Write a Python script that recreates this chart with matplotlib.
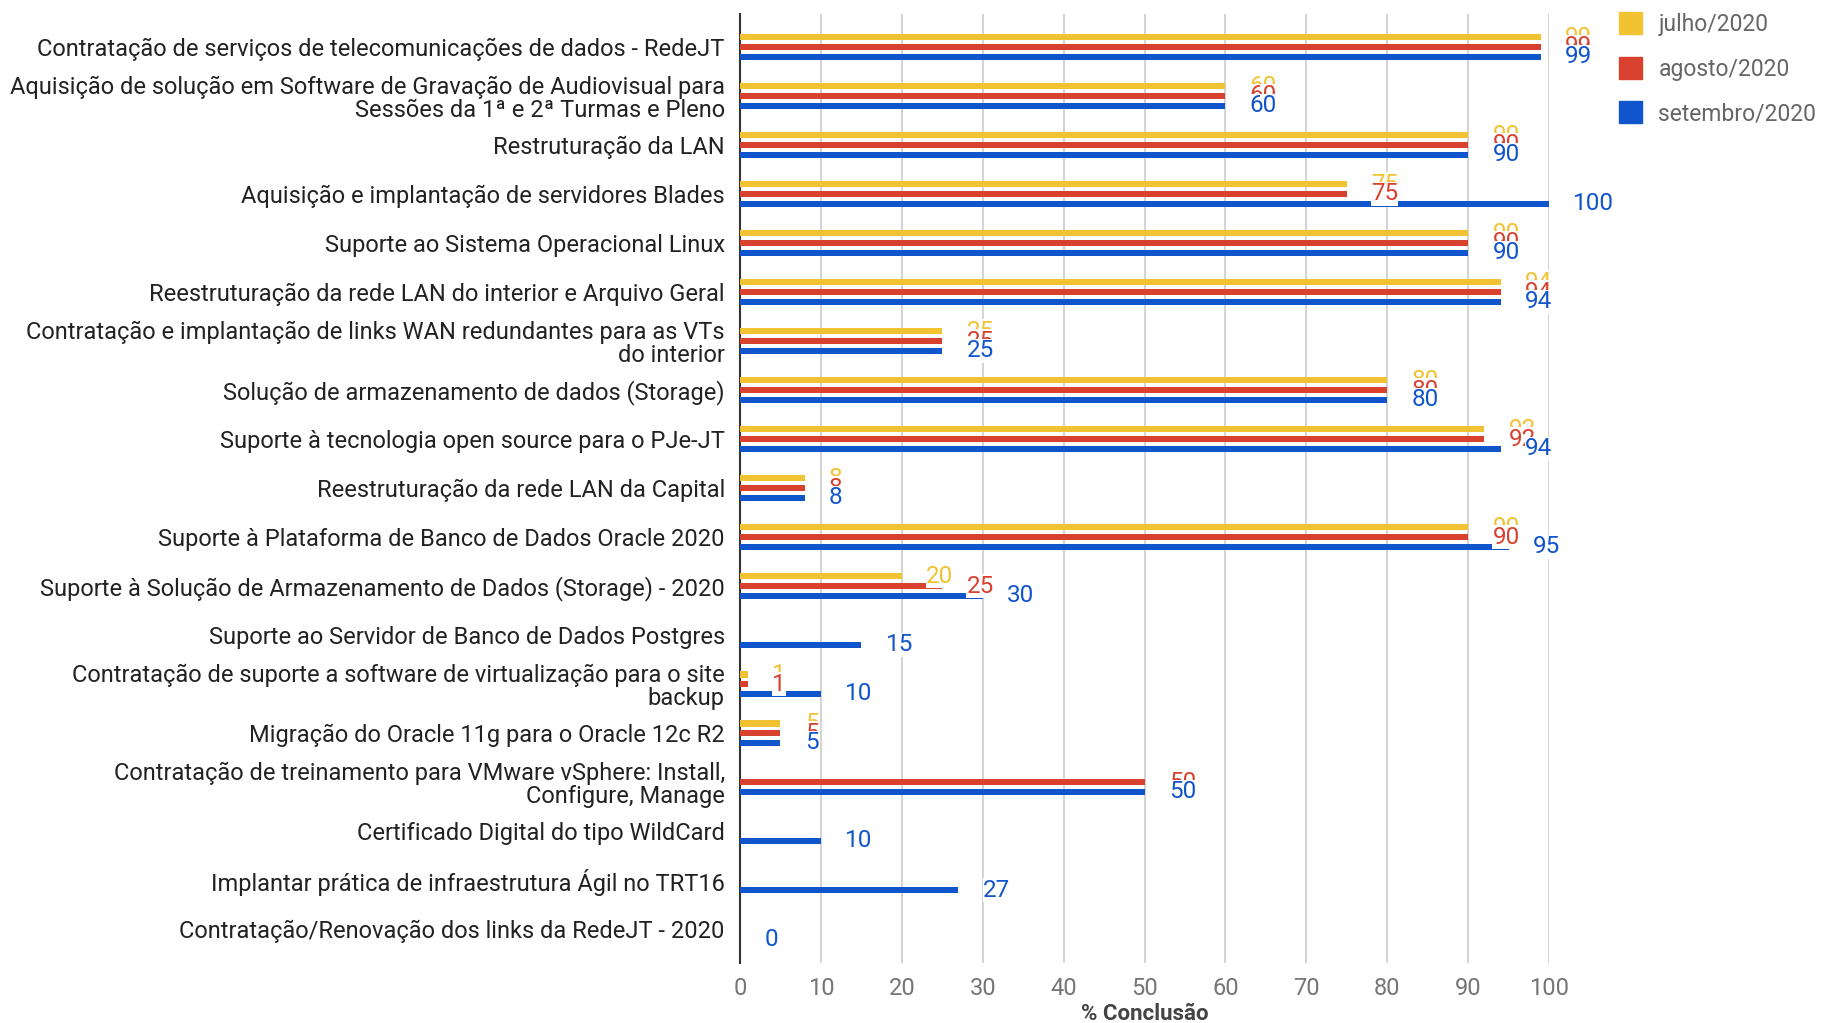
import numpy as np
import matplotlib.pyplot as plt

plt.rcParams['font.family'] = ['Roboto', 'DejaVu Sans']

categorias = [
    "Contratação de serviços de telecomunicações de dados - RedeJT",
    "Aquisição de solução em Software de Gravação de Audiovisual para\nSessões da 1ª e 2ª Turmas e Pleno",
    "Restruturação da LAN",
    "Aquisição e implantação de servidores Blades",
    "Suporte ao Sistema Operacional Linux",
    "Reestruturação da rede LAN do interior e Arquivo Geral",
    "Contratação e implantação de links WAN redundantes para as VTs\ndo interior",
    "Solução de armazenamento de dados (Storage)",
    "Suporte à tecnologia open source para o PJe-JT",
    "Reestruturação da rede LAN da Capital",
    "Suporte à Plataforma de Banco de Dados Oracle 2020",
    "Suporte à Solução de Armazenamento de Dados (Storage) - 2020",
    "Suporte ao Servidor de Banco de Dados Postgres",
    "Contratação de suporte a software de virtualização para o site\nbackup",
    "Migração do Oracle 11g para o Oracle 12c R2",
    "Contratação de treinamento para VMware vSphere: Install,\nConfigure, Manage",
    "Certificado Digital do tipo WildCard",
    "Implantar prática de infraestrutura Ágil no TRT16",
    "Contratação/Renovação dos links da RedeJT - 2020",
]

julho = [99, 60, 90, 75, 90, 94, 25, 80, 92, 8, 90, 20, None, 1, 5, None, None, None, None]
agosto = [99, 60, 90, 75, 90, 94, 25, 80, 92, 8, 90, 25, None, 1, 5, 50, None, None, None]
setembro = [99, 60, 90, 100, 90, 94, 25, 80, 94, 8, 95, 30, 15, 10, 5, 50, 10, 27, 0]

series = [("julho/2020", julho, "#F1C232"),
          ("agosto/2020", agosto, "#D9412F"),
          ("setembro/2020", setembro, "#1155CC")]

fig = plt.figure(figsize=(18.25, 10.23), dpi=100)
ax = fig.add_axes([0.4055, 0.0586, 0.4433, 0.9274])

y = np.arange(len(categorias))
offsets = [-0.2, 0.0, 0.2]
bar_h = 0.13

for k, (nome, vals, cor) in enumerate(series):
    ypos = y + offsets[k]
    for i, v in enumerate(vals):
        if v is None:
            continue
        ax.barh(ypos[i], v, height=bar_h, color=cor, zorder=3)
        ax.text(v + 3.0, ypos[i], str(v), color=cor, fontsize=17.5,
                va='center', ha='left', zorder=5 + k,
                bbox=dict(facecolor='white', edgecolor='none', pad=0.2))

ax.set_yticks(y)
ax.set_yticklabels(categorias, fontsize=17, color='#222222', linespacing=1.0)
ax.set_ylim(len(categorias) - 0.31, -0.665)
ax.set_xlim(0, 100)
ax.set_xticks(np.arange(0, 101, 10))
ax.tick_params(axis='x', colors='#757575', labelsize=17, length=0, pad=10)
ax.tick_params(axis='y', length=0, pad=11)
ax.grid(axis='x', color='#CCCCCC', linewidth=1.2, zorder=0)
ax.set_axisbelow(True)
for s in ['top', 'right', 'bottom']:
    ax.spines[s].set_visible(False)
ax.spines['left'].set_color('#333333')
ax.spines['left'].set_linewidth(1.5)
ax.set_xlabel("% Conclusão", fontsize=16, fontweight='bold', color='#444444', labelpad=2)

handles = [plt.Rectangle((0, 0), 1, 1, color=c) for _, _, c in series]
fig.legend(handles, [n for n, _, _ in series], loc='upper left',
           bbox_to_anchor=(0.876, 1.008), frameon=False, fontsize=16.5,
           labelcolor='#666666', handlelength=1.0, handleheight=1.1,
           labelspacing=0.9, handletextpad=0.7)

fig.savefig("out.png", dpi=100)
